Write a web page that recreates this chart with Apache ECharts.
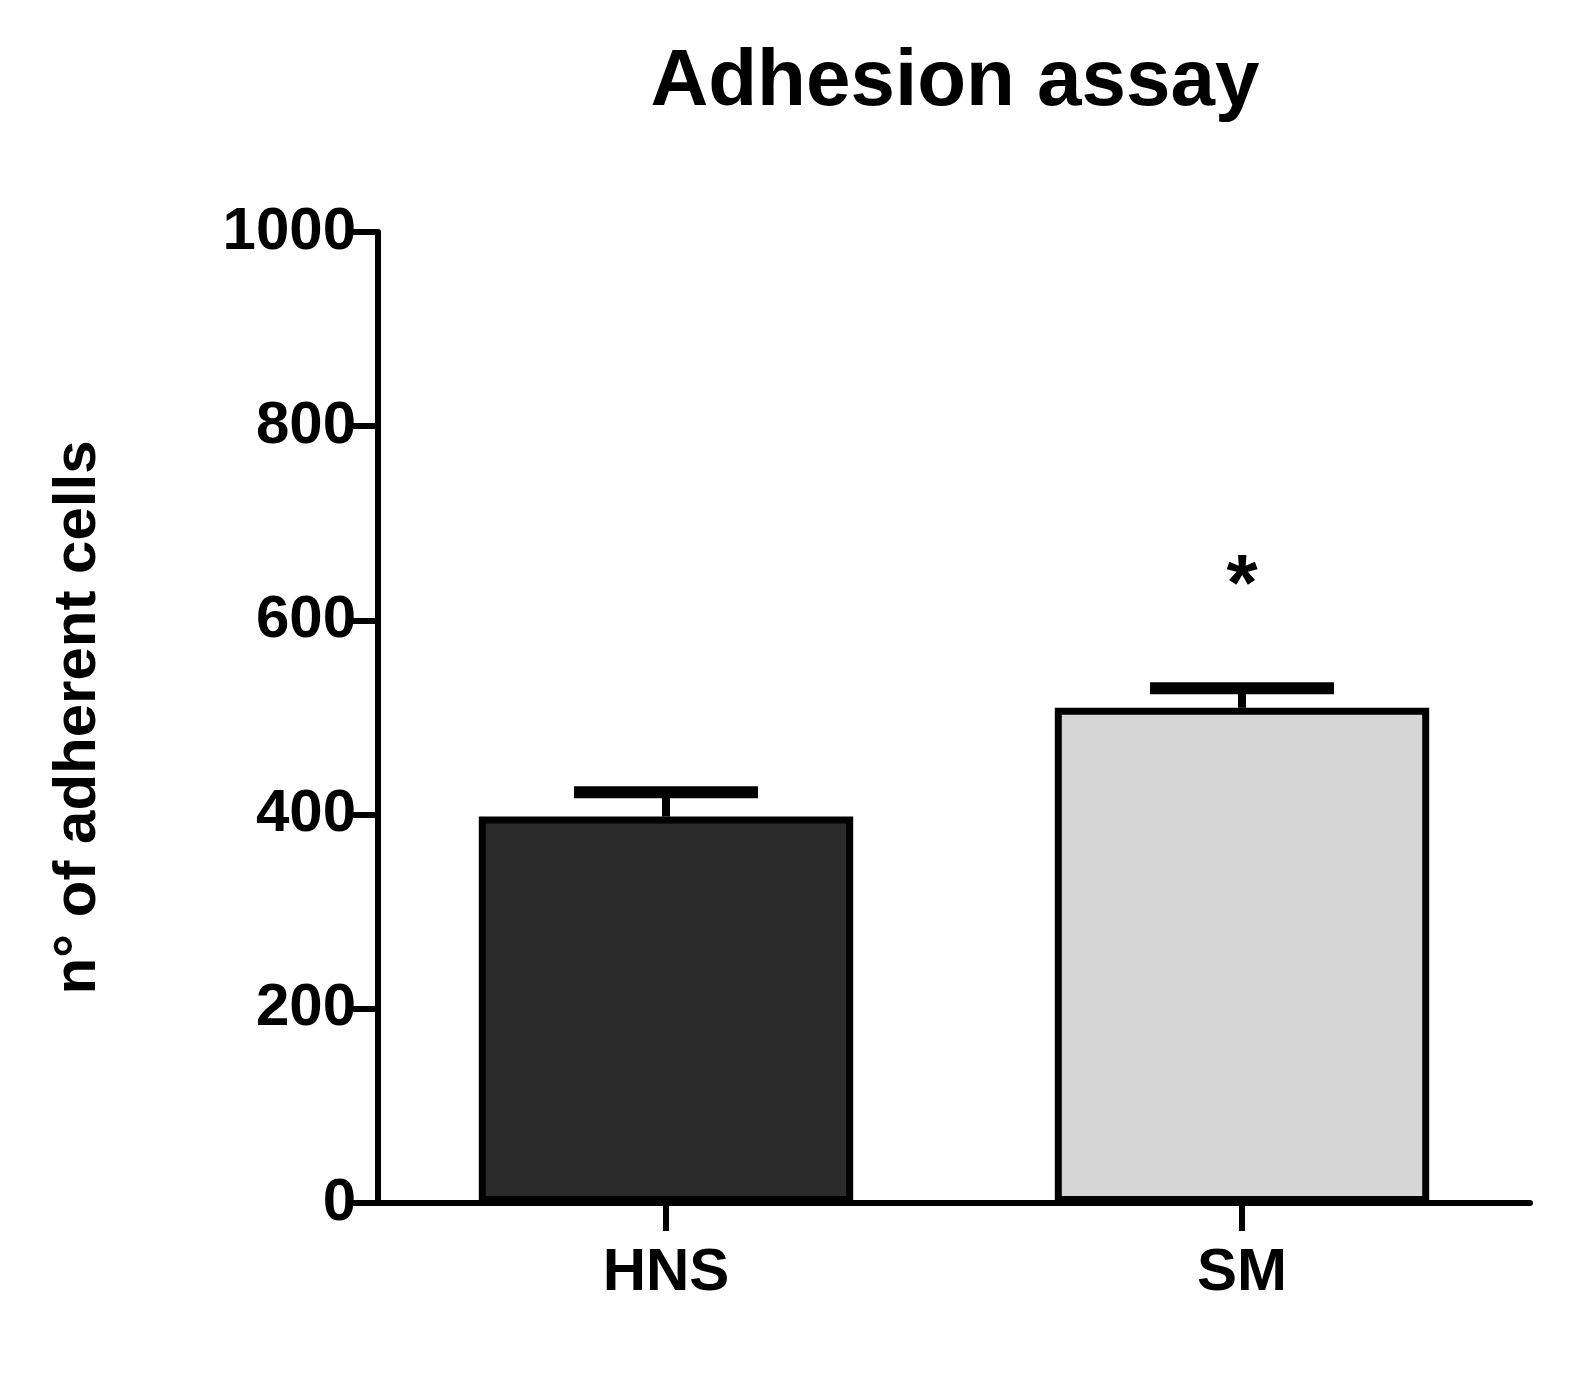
<!DOCTYPE html>
<html><head><meta charset="utf-8">
<script src="https://cdn.jsdelivr.net/npm/echarts@6/dist/echarts.min.js"></script>
<style>html,body{margin:0;background:#fff}#c{width:1581px;height:1382px}</style>
</head><body><div id="c"></div>
<script>
const categories = ['HNS', 'SM'];
const means = [398, 510];
const errors = [25, 20];
const barColors = ['#2b2b2b', '#d6d6d6'];
const yTicks = [0, 200, 400, 600, 800, 1000];
const marks = ['', '*'];

const chart = echarts.init(document.getElementById('c'));
const font = 'Liberation Sans, Arial, sans-serif';
chart.setOption({
  animation: false,
  title: {text: 'Adhesion assay', left: 950, top: 38, textAlign: 'center',
    textStyle: {fontFamily: font, fontWeight: 'bold', fontSize: 80, color: '#000'}},
  grid: {left: 378, right: 51, top: 232, bottom: 179},
  xAxis: {type: 'category', data: categories,
    axisLine: {lineStyle: {color: '#000', width: 6}},
    axisTick: {show: true, alignWithLabel: true, length: 28, lineStyle: {width: 6, color: '#000'}},
    axisLabel: {fontFamily: font, fontWeight: 'bold', fontSize: 60, color: '#000', margin: 40}},
  yAxis: {type: 'value', min: 0, max: 1000, interval: 200,
    name: 'n° of adherent cells', nameLocation: 'middle', nameGap: 270, nameRotate: 90,
    nameTextStyle: {fontFamily: font, fontWeight: 'bold', fontSize: 60, color: '#000'},
    splitLine: {show: false},
    axisLine: {show: true, lineStyle: {color: '#000', width: 6}},
    axisTick: {show: true, length: 28, lineStyle: {width: 6, color: '#000'}},
    axisLabel: {fontFamily: font, fontWeight: 'bold', fontSize: 60, color: '#000', margin: 22,
      formatter: v => yTicks.includes(v) ? String(v) : ''}},
  series: [
    {type: 'bar', barWidth: '65%',
     data: means.map((v, i) => ({value: v, itemStyle: {color: barColors[i], borderColor: '#000', borderWidth: 7}})),
     label: {show: true, position: 'top', distance: 80, formatter: p => marks[p.dataIndex],
       fontFamily: font, fontWeight: 'bold', fontSize: 80, color: '#000'}},
    {type: 'custom', z: 1,
     data: means.map((v, i) => [i, v, v + errors[i]]),
     renderItem: (params, api) => {
       const b = api.coord([api.value(0), api.value(1)]);
       const t = api.coord([api.value(0), api.value(2)]);
       const hw = 92;
       return {type: 'group', children: [
         {type: 'line', shape: {x1: b[0], y1: b[1], x2: t[0], y2: t[1]}, style: {stroke: '#000', lineWidth: 8}},
         {type: 'line', shape: {x1: t[0] - hw, y1: t[1], x2: t[0] + hw, y2: t[1]}, style: {stroke: '#000', lineWidth: 12}}
       ]};
     }}
  ]
});
</script></body></html>
